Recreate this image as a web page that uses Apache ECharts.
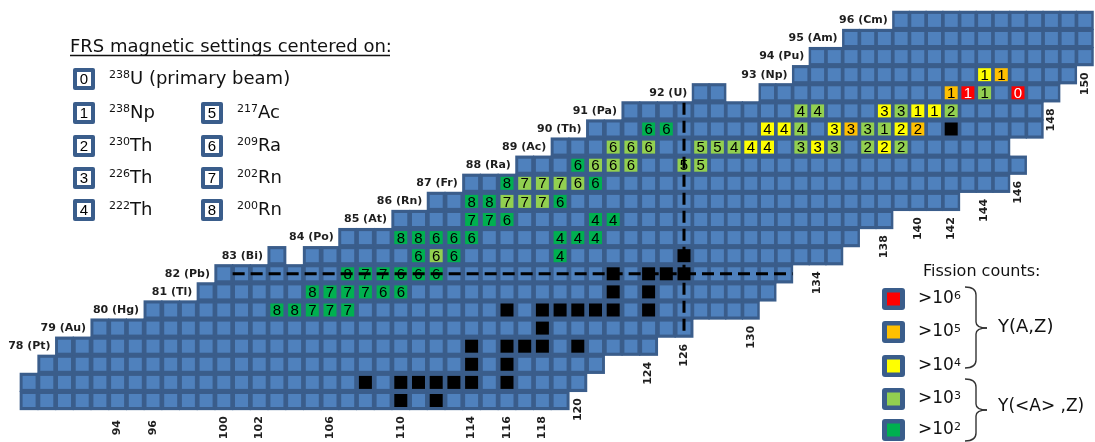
<!DOCTYPE html>
<html>
<head>
<meta charset="utf-8">
<title>FRS nuclide chart</title>
<script src="https://cdn.jsdelivr.net/npm/echarts@6.0.0/dist/echarts.min.js"></script>
<style>
  html, body { margin: 0; padding: 0; background: #fff; }
  #chart { width: 1095px; height: 442px; }
</style>
</head>
<body>
<div id="chart"></div>
<script>
// 每一行: 质子数 Z 和这一行中子数 N 的起止
const zList = [75, 76, 77, 78, 79, 80, 81, 82, 83, 84, 85, 86, 87, 88, 89, 90, 91, 92, 93, 94, 95, 96]
const nStart = [89, 89, 90, 91, 93, 96, 99, 100, 103, 107, 110, 112, 114, 117, 119, 121, 123, 127, 133, 134, 136, 139]
const nEnd = [119, 120, 121, 124, 126, 130, 131, 132, 135, 136, 138, 142, 145, 146, 145, 147, 147, 148, 149, 150, 150, 150]
// 行内空缺的格子 [N, Z]
const missingCells = [[104, 83], [129, 92], [130, 92]]

// 元素名 (Z = 78 ... 96)
const elemZ = [78, 79, 80, 81, 82, 83, 84, 85, 86, 87, 88, 89, 90, 91, 92, 93, 94, 95, 96]
const elemNames = ['Pt', 'Au', 'Hg', 'Tl', 'Pb', 'Bi', 'Po', 'At', 'Rn', 'Fr', 'Ra', 'Ac', 'Th', 'Pa', 'U', 'Np', 'Pu', 'Am', 'Cm']

// 测到的核 [N, Z, FRS设置编号, 计数级别(>10^x)]
const measuredCells = [
    [144, 93, 1, 4], [145, 93, 1, 5],
    [142, 92, 1, 5], [143, 92, 1, 6], [144, 92, 1, 3], [146, 92, 0, 6],
    [133, 91, 4, 3], [134, 91, 4, 3], [138, 91, 3, 4], [139, 91, 3, 3], [140, 91, 1, 4], [141, 91, 1, 4], [142, 91, 2, 3],
    [124, 90, 6, 2], [125, 90, 6, 2], [131, 90, 4, 4], [132, 90, 4, 4], [133, 90, 4, 3], [135, 90, 3, 4], [136, 90, 3, 5],
    [137, 90, 3, 3], [138, 90, 1, 3], [139, 90, 2, 4], [140, 90, 2, 5],
    [122, 89, 6, 3], [123, 89, 6, 3], [124, 89, 6, 3], [127, 89, 5, 3], [128, 89, 5, 3], [129, 89, 4, 3], [130, 89, 4, 4],
    [131, 89, 4, 4], [133, 89, 3, 3], [134, 89, 3, 4], [135, 89, 3, 3], [137, 89, 2, 3], [138, 89, 2, 4], [139, 89, 2, 3],
    [120, 88, 6, 2], [121, 88, 6, 3], [122, 88, 6, 3], [123, 88, 6, 3], [126, 88, 5, 3], [127, 88, 5, 3],
    [116, 87, 8, 2], [117, 87, 7, 3], [118, 87, 7, 3], [119, 87, 7, 3], [120, 87, 6, 3], [121, 87, 6, 2],
    [114, 86, 8, 2], [115, 86, 8, 2], [116, 86, 7, 3], [117, 86, 7, 3], [118, 86, 7, 3], [119, 86, 6, 2],
    [114, 85, 7, 2], [115, 85, 7, 2], [116, 85, 6, 2], [121, 85, 4, 2], [122, 85, 4, 2],
    [110, 84, 8, 2], [111, 84, 8, 2], [112, 84, 6, 2], [113, 84, 6, 2], [114, 84, 6, 2], [119, 84, 4, 2], [120, 84, 4, 2], [121, 84, 4, 2],
    [111, 83, 6, 2], [112, 83, 6, 3], [113, 83, 6, 2], [119, 83, 4, 2],
    [107, 82, 8, 2], [108, 82, 7, 2], [109, 82, 7, 2], [110, 82, 6, 2], [111, 82, 6, 2], [112, 82, 6, 2],
    [105, 81, 8, 2], [106, 81, 7, 2], [107, 81, 7, 2], [108, 81, 7, 2], [109, 81, 6, 2], [110, 81, 6, 2],
    [103, 80, 8, 2], [104, 80, 8, 2], [105, 80, 7, 2], [106, 80, 7, 2], [107, 80, 7, 2]
]

// 黑色格子 [N, Z]
const blackCells = [
    [142, 90], [126, 83],
    [122, 82], [124, 82], [125, 82], [126, 82],
    [122, 81], [124, 81],
    [116, 80], [118, 80], [119, 80], [120, 80], [121, 80], [122, 80], [124, 80],
    [118, 79],
    [114, 78], [116, 78], [117, 78], [118, 78], [120, 78],
    [114, 77], [116, 77],
    [108, 76], [110, 76], [111, 76], [112, 76], [113, 76], [114, 76], [116, 76],
    [110, 75], [112, 75]
]

// 底部 N 刻度
const nTicks = [94, 96, 100, 102, 106, 110, 114, 116, 118, 120, 124, 126, 130, 134, 138, 140, 142, 144, 146, 148, 150]

// 魔数虚线
const magicZ = 82
const magicN = 126

// 图例: FRS 设置
const settingIds = ['0', '1', '2', '3', '4', '5', '6', '7', '8']
const settingMass = ['238', '238', '230', '226', '222', '217', '209', '202', '200']
const settingNames = ['U (primary beam)', 'Np', 'Th', 'Th', 'Th', 'Ac', 'Ra', 'Rn', 'Rn']

// 图例: 裂变计数
const countLevels = [6, 5, 4, 3, 2]

// ---- 样式 ----
const BACK = '#3a5d8b'
const FILL = '#4f81bd'
const levelColor = { 2: '#00b050', 3: '#92d050', 4: '#ffff00', 5: '#ffc000', 6: '#ff0000' }
const FONT = 'DejaVu Sans'

// ---- 版面: N=126 左右两段的像素间距不同 ----
const W = 1095, H = 442
const X_SPLIT = 684
const PITCH_L = 17.7, PITCH_R = 16.7
const Y_Z75 = 400.5, PITCH_Z = 18.1

function isMissing(n, z) {
    return missingCells.some(m => m[0] === n && m[1] === z)
}

// 生成所有格子
const cells = []
zList.forEach((z, i) => {
    for (let n = nStart[i]; n <= nEnd[i]; n++) {
        if (isMissing(n, z)) continue
        cells.push({ n, z, fill: FILL, text: '', color: '#000' })
    }
})
const findCell = (n, z) => cells.find(c => c.n === n && c.z === z)
measuredCells.forEach(([n, z, s, lv]) => {
    const c = findCell(n, z)
    if (!c) return
    c.fill = levelColor[lv]
    c.text = String(s)
    c.color = lv === 6 ? '#fff' : '#000'
})
blackCells.forEach(([n, z]) => {
    const c = findCell(n, z)
    if (c) c.fill = '#000'
})

// 某一列最低的一行
function lowestRow(n) {
    for (let i = 0; i < zList.length; i++) {
        if (n >= nStart[i] && n <= nEnd[i] && !isMissing(n, zList[i])) return zList[i]
    }
    return zList[0]
}

// 文本标签: 行名 + N 刻度
const labels = []
elemZ.forEach((z, i) => {
    const n0 = nStart[zList.indexOf(z)]
    labels.push({ n: n0 - 0.5, z, axis: n0 <= magicN ? 0 : 1, text: z + ' (' + elemNames[i] + ')', align: 'right', dx: -5, rot: 0 })
})
nTicks.forEach(n => {
    labels.push({ n, z: lowestRow(n) - 1.5, axis: n <= magicN ? 0 : 1, text: String(n), align: 'center', dx: 0, rot: 90 })
})

// 虚线 [N1, Z1, N2, Z2]
const zRow = zList.indexOf(magicZ)
const dashLeft = [
    [nStart[zRow] + 0.5, magicZ, magicN, magicZ],
    [magicN, 91.45, magicN, lowestRow(magicN) - 0.25]
]
const dashRight = [
    [magicN, magicZ, nEnd[zRow] + 0.5, magicZ]
]

function cellSeries(list, axis) {
    return {
        type: 'custom',
        xAxisIndex: axis,
        silent: true,
        z: 2,
        data: list.map(c => [c.n, c.z]),
        renderItem: function (params, api) {
            const cell = list[params.dataIndex]
            const p = api.coord([cell.n, cell.z])
            const s = api.size([1, 1])
            const children = [
                {
                    type: 'rect',
                    shape: { x: p[0] - s[0] / 2 - 0.6, y: p[1] - s[1] / 2 - 0.6, width: s[0] + 1.2, height: s[1] + 1.2 },
                    style: { fill: BACK }
                },
                {
                    type: 'rect',
                    shape: { x: p[0] - 6.5, y: p[1] - 6.5, width: 13, height: 13 },
                    style: { fill: cell.fill }
                }
            ]
            if (cell.text) {
                children.push({
                    type: 'text',
                    x: p[0],
                    y: p[1] + 1,
                    style: {
                        text: cell.text, fill: cell.color, fontSize: 15, fontFamily: 'Liberation Sans',
                        align: 'center', verticalAlign: 'middle'
                    }
                })
            }
            return { type: 'group', children }
        }
    }
}

function labelSeries(list, axis) {
    return {
        type: 'custom',
        xAxisIndex: axis,
        silent: true,
        z: 4,
        data: list.map(l => [l.n, l.z]),
        renderItem: function (params, api) {
            const l = list[params.dataIndex]
            const p = api.coord([l.n, l.z])
            return {
                type: 'text',
                x: p[0] + l.dx,
                y: p[1],
                rotation: l.rot * Math.PI / 180,
                style: {
                    text: l.text, fill: '#1e1e1e', fontSize: 11, fontWeight: 'bold', fontFamily: FONT,
                    align: l.align, verticalAlign: 'middle'
                }
            }
        }
    }
}

function dashSeries(list, axis) {
    return {
        type: 'custom',
        xAxisIndex: axis,
        silent: true,
        z: 5,
        data: list.map(d => [d[0], d[1]]),
        renderItem: function (params, api) {
            const d = list[params.dataIndex]
            const a = api.coord([d[0], d[1]])
            const b = api.coord([d[2], d[3]])
            return {
                type: 'line',
                shape: { x1: a[0], y1: a[1], x2: b[0], y2: b[1] },
                style: { stroke: '#000', lineWidth: 3, lineDash: [12, 6] }
            }
        }
    }
}

// ---- 图例 ----
const graphics = []
const txt = (x, y, text, size, extra) => ({
    type: 'text', x, y,
    style: Object.assign({ text, fontSize: size, fontFamily: FONT, fill: '#111', align: 'left', verticalAlign: 'middle' }, extra || {})
})
graphics.push(txt(70, 47, 'FRS magnetic settings centered on:', 18))
graphics.push({ type: 'line', shape: { x1: 70, y1: 55.5, x2: 390, y2: 55.5 }, style: { stroke: '#111', lineWidth: 1.3 } })

const rowY = [79, 113, 146, 178, 210]
settingIds.forEach((id, i) => {
    const bx = i >= 5 ? 212 : 84
    const by = rowY[i === 0 ? 0 : (i - 1) % 4 + 1]
    graphics.push({ type: 'rect', shape: { x: bx - 11, y: by - 11, width: 22, height: 22, r: 2 }, style: { fill: BACK } })
    graphics.push({ type: 'rect', shape: { x: bx - 7, y: by - 7, width: 14, height: 14 }, style: { fill: '#fff' } })
    graphics.push(txt(bx, by + 1, id, 15, { align: 'center', fontFamily: 'Liberation Sans', fill: '#000' }))
    graphics.push({
        type: 'text', x: bx + 25, y: by,
        style: {
            text: '{s|' + settingMass[i] + '}{m|' + settingNames[i] + '}',
            align: 'left', verticalAlign: 'middle',
            rich: {
                s: { fontSize: 11, fontFamily: FONT, fill: '#111', verticalAlign: 'top' },
                m: { fontSize: 18, fontFamily: FONT, fill: '#111' }
            }
        }
    })
})

graphics.push(txt(923, 272, 'Fission counts:', 16))
const countY = [299, 332, 366, 399, 430]
countLevels.forEach((lv, i) => {
    const by = countY[i]
    graphics.push({ type: 'rect', shape: { x: 882, y: by - 11, width: 23, height: 22, r: 3 }, style: { fill: BACK } })
    graphics.push({ type: 'rect', shape: { x: 887, y: by - 6.5, width: 13, height: 13 }, style: { fill: levelColor[lv] } })
    graphics.push({
        type: 'text', x: 918, y: by,
        style: {
            text: '{m|>10}{s|' + lv + '}',
            align: 'left', verticalAlign: 'middle',
            rich: {
                m: { fontSize: 17, fontFamily: FONT, fill: '#111' },
                s: { fontSize: 11, fontFamily: FONT, fill: '#111', verticalAlign: 'top' }
            }
        }
    })
})
// 大括号: 曲线 + 直线拼成
function brace(top, mid, bottom) {
    const st = { stroke: '#333', fill: null, lineWidth: 1.4 }
    const curve = (x1, y1, x2, y2, cx, cy) => ({ type: 'bezierCurve', shape: { x1, y1, x2, y2, cpx1: cx, cpy1: cy }, style: st })
    const line = (x1, y1, x2, y2) => ({ type: 'line', shape: { x1, y1, x2, y2 }, style: st })
    return [
        curve(965, top, 976, top + 8, 976, top),
        line(976, top + 8, 976, mid - 6),
        curve(976, mid - 6, 987, mid, 976, mid),
        curve(987, mid, 976, mid + 6, 976, mid),
        line(976, mid + 6, 976, bottom - 8),
        curve(976, bottom - 8, 965, bottom, 976, bottom)
    ]
}
brace(287, 328, 368).forEach(g => graphics.push(g))
brace(379, 410, 441).forEach(g => graphics.push(g))
graphics.push(txt(998, 327, 'Y(A,Z)', 18))
graphics.push(txt(998, 407, 'Y(<A> ,Z)', 17))

// ---- 组装 ----
const myChart = echarts.init(document.querySelector('#chart'))
const option = {
    animation: false,
    grid: { left: 0, right: 0, top: 0, bottom: 0 },
    xAxis: [
        { type: 'value', show: false, min: magicN - X_SPLIT / PITCH_L, max: magicN + (W - X_SPLIT) / PITCH_L },
        { type: 'value', show: false, min: magicN - X_SPLIT / PITCH_R, max: magicN + (W - X_SPLIT) / PITCH_R }
    ],
    yAxis: { type: 'value', show: false, min: 75 - (H - Y_Z75) / PITCH_Z, max: 75 + Y_Z75 / PITCH_Z },
    series: [
        cellSeries(cells.filter(c => c.n <= magicN), 0),
        cellSeries(cells.filter(c => c.n > magicN), 1),
        dashSeries(dashLeft, 0),
        dashSeries(dashRight, 1),
        labelSeries(labels.filter(l => l.axis === 0), 0),
        labelSeries(labels.filter(l => l.axis === 1), 1)
    ],
    graphic: graphics
}
myChart.setOption(option)
</script>
</body>
</html>
